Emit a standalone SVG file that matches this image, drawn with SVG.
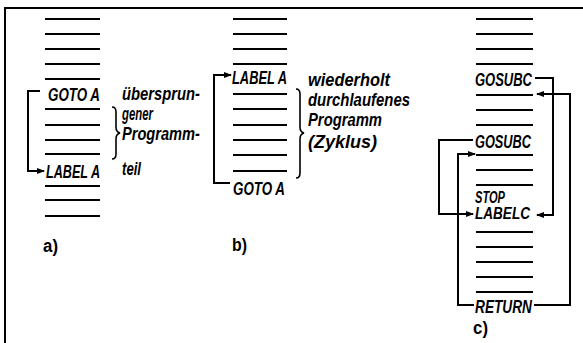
<svg xmlns="http://www.w3.org/2000/svg" width="583" height="343" viewBox="0 0 583 343">
<style>
.f{fill:none;stroke:#000;stroke-width:2}
.s{stroke:#000;stroke-width:2}
.c{fill:none;stroke:#000;stroke-width:1.6}
.t{font-family:"Liberation Sans",Arial,sans-serif;font-style:italic;font-weight:bold;font-size:18px;fill:#000}
.l{font-family:"Liberation Sans",Arial,sans-serif;font-style:italic;font-weight:bold;font-size:18px;fill:#000}
.p{font-family:"Liberation Sans",Arial,sans-serif;font-weight:bold;font-size:18px;fill:#000}
</style>
<defs>
<marker id="ah" markerWidth="8" markerHeight="6" refX="7" refY="3" orient="auto" markerUnits="userSpaceOnUse">
<path d="M0,0 L8,3 L0,6 Z" fill="#000"/>
</marker>
</defs>
<path class="f" d="M5,343 V8 H583"/>

<g id="colA">
<path class="s" d="M45,19H100M45,34H100M45,49H100M45,64H100M45,79H100M45,109H100M45,125H100M45,140H100M45,154H100M45,186H100M45,200H100M45,216H100"/>
<text class="t" x="48" y="101" textLength="52" lengthAdjust="spacingAndGlyphs">GOTO A</text>
<text class="t" x="46" y="178" textLength="54" lengthAdjust="spacingAndGlyphs">LABEL A</text>
<path class="c" d="M112,107 Q116,107 116,112 V127 Q116,132 120,133 Q116,134 116,139 V154 Q116,159 112,159"/>
<text class="l" x="122" y="100" textLength="78" lengthAdjust="spacingAndGlyphs">übersprun-</text>
<text class="l" x="122" y="120" textLength="31" lengthAdjust="spacingAndGlyphs">gener</text>
<text class="l" x="122" y="140" textLength="78" lengthAdjust="spacingAndGlyphs">Programm-</text>
<text class="l" x="122" y="175" textLength="19" lengthAdjust="spacingAndGlyphs">teil</text>
<text class="p" x="43" y="252" textLength="15" lengthAdjust="spacingAndGlyphs">a)</text>
</g>

<g id="colB">
<path class="s" d="M233,19H287M233,34H287M233,49H287M233,64H287M233,94H287M233,109H287M233,125H287M233,140H287M233,155H287M233,171H287"/>
<text class="t" x="232" y="84" textLength="55" lengthAdjust="spacingAndGlyphs">LABEL A</text>
<text class="t" x="233" y="195" textLength="52" lengthAdjust="spacingAndGlyphs">GOTO A</text>
<path class="c" d="M296,89 Q300,89 300,94 V127 Q300,132 304,133 Q300,134 300,139 V173 Q300,178 296,178"/>
<text class="l" x="308" y="86" textLength="82" lengthAdjust="spacingAndGlyphs">wiederholt</text>
<text class="l" x="308" y="106" textLength="102" lengthAdjust="spacingAndGlyphs">durchlaufenes</text>
<text class="l" x="308" y="126" textLength="74" lengthAdjust="spacingAndGlyphs">Programm</text>
<text class="l" x="308" y="148" textLength="69" lengthAdjust="spacingAndGlyphs">(Zyklus)</text>
<text class="p" x="232" y="251" textLength="15" lengthAdjust="spacingAndGlyphs">b)</text>
</g>

<g id="colC">
<path class="s" d="M476,19H533M476,34H533M476,49H533M476,64H533M476,95H533M476,110H533M476,125H533M476,155H533M476,170H533M476,185H533M476,232H533M476,247H533M476,262H533M476,277H533M476,292H533"/>
<text class="t" x="475" y="86" textLength="57" lengthAdjust="spacingAndGlyphs">GOSUBC</text>
<text class="t" x="475" y="148" textLength="56" lengthAdjust="spacingAndGlyphs">GOSUBC</text>
<text class="t" x="475" y="203" textLength="30" lengthAdjust="spacingAndGlyphs" style="font-size:16px">STOP</text>
<text class="t" x="475" y="219" textLength="55" lengthAdjust="spacingAndGlyphs" style="font-size:16px">LABELC</text>
<text class="t" x="475" y="313" textLength="57" lengthAdjust="spacingAndGlyphs">RETURN</text>
<text class="p" x="473" y="334" textLength="15" lengthAdjust="spacingAndGlyphs">c)</text>
</g>

<g id="connectors">
<path class="f" marker-end="url(#ah)" d="M40,91 H28 V171 H44"/>
<path class="f" marker-end="url(#ah)" d="M230,183 H214 V75 H231"/>
<path class="f" marker-end="url(#ah)" d="M535,78 H553 V215 H537"/>
<path class="f" marker-end="url(#ah)" d="M534,305 H570 V94 H537"/>
<path class="f" marker-end="url(#ah)" d="M473,140 H439 V214 H473"/>
<path class="f" marker-end="url(#ah)" d="M474,305 H458 V154 H475"/>
</g>
</svg>
